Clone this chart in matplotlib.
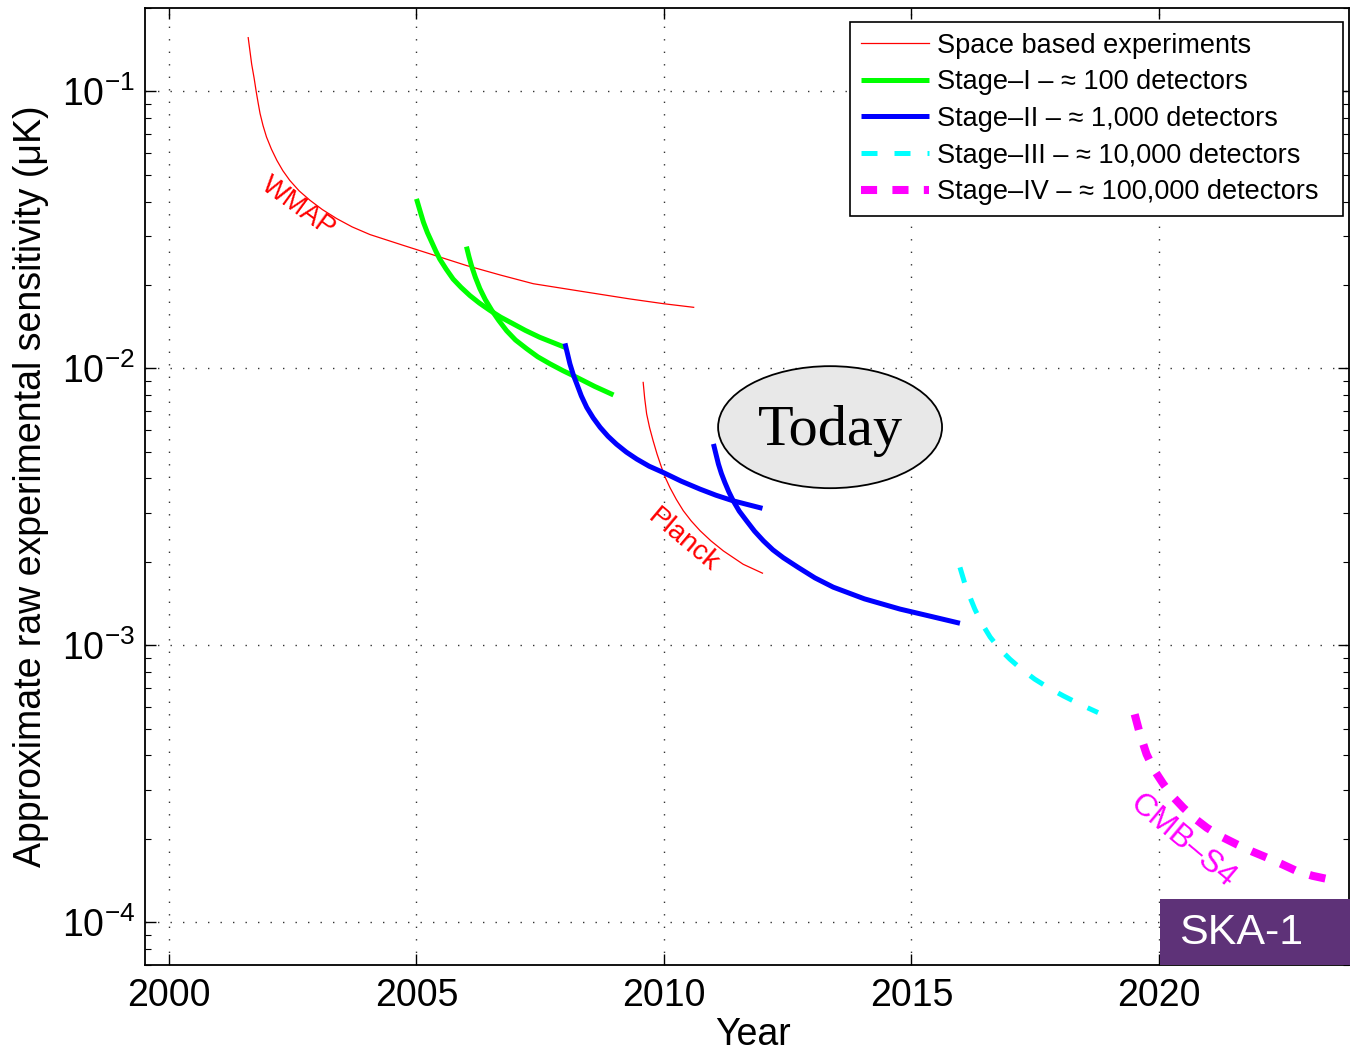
import matplotlib
matplotlib.use('Agg')
import matplotlib.pyplot as plt
from matplotlib.patches import Ellipse, Rectangle

plt.rcParams['font.family'] = ['Liberation Sans', 'DejaVu Sans']
plt.rcParams['mathtext.fontset'] = 'custom'
plt.rcParams['mathtext.rm'] = 'Liberation Sans'
plt.rcParams['mathtext.it'] = 'Liberation Sans:italic'

# curves (year, sensitivity in uK)
wmap_x = [2001.60, 2001.67, 2001.72, 2001.76, 2001.80, 2001.84, 2001.90, 2001.97, 2002.07,
          2002.18, 2002.30, 2002.44, 2002.63, 2002.85, 2003.1, 2003.39, 2003.7, 2004.06,
          2004.73, 2005.27, 2006.01, 2006.7, 2007.36, 2008.3, 2009.31, 2010.0, 2010.6]
wmap_y = [0.1563, 0.1254, 0.1115, 0.1002, 0.0910, 0.0831, 0.0752, 0.0684, 0.0618,
          0.0563, 0.0517, 0.0477, 0.0437, 0.0404, 0.0374, 0.0347, 0.0324, 0.0304,
          0.0278, 0.0259, 0.0235, 0.0217, 0.0202, 0.0190, 0.0178, 0.0171, 0.0166]

planck_x = [2009.58, 2009.61, 2009.65, 2009.71, 2009.78, 2009.86, 2009.95, 2010.03, 2010.12,
            2010.25, 2010.39, 2010.55, 2010.73, 2010.95, 2011.20, 2011.60, 2011.99]
planck_y = [0.00889, 0.0078, 0.00684, 0.0061, 0.00548, 0.0049, 0.00439, 0.00402, 0.00371,
            0.00336, 0.00306, 0.00281, 0.00259, 0.00238, 0.00219, 0.00196, 0.00182]

st1a_x = [2005.0, 2005.07, 2005.14, 2005.22, 2005.31, 2005.39, 2005.47, 2005.6, 2005.74,
          2005.9, 2006.08, 2006.27, 2006.48, 2006.7, 2006.96, 2007.2, 2007.49, 2007.75, 2008.0]
st1a_y = [0.0409, 0.0371, 0.0337, 0.0309, 0.0285, 0.0265, 0.0248, 0.0228, 0.0210,
          0.0196, 0.0183, 0.0172, 0.0162, 0.0153, 0.01445, 0.01370, 0.01294, 0.01240, 0.0119]

st1b_x = [2006.01, 2006.06, 2006.11, 2006.19, 2006.28, 2006.39, 2006.52, 2006.66, 2006.82,
          2007.0, 2007.23, 2007.45, 2007.70, 2007.96, 2008.24, 2008.6, 2008.98]
st1b_y = [0.0275, 0.0253, 0.0235, 0.0213, 0.0194, 0.0177, 0.0162, 0.0149, 0.01367,
          0.01265, 0.01175, 0.01100, 0.01037, 0.00980, 0.00927, 0.00860, 0.00801]

st2a_x = [2008.0, 2008.05, 2008.10, 2008.17, 2008.24, 2008.33, 2008.44, 2008.57, 2008.71,
          2008.87, 2009.04, 2009.24, 2009.45, 2009.7, 2009.99, 2010.35, 2010.73, 2011.05,
          2011.40, 2011.99]
st2a_y = [0.0123, 0.0113, 0.01037, 0.00945, 0.00877, 0.00795, 0.00722, 0.00662, 0.00612,
          0.00568, 0.00532, 0.00498, 0.0047, 0.00443, 0.0042, 0.00391, 0.00366, 0.00348,
          0.00332, 0.00312]

st2b_x = [2011.0, 2011.05, 2011.10, 2011.16, 2011.23, 2011.31, 2011.40, 2011.52, 2011.67,
          2011.83, 2012.01, 2012.2, 2012.41, 2012.71, 2013.05, 2013.42, 2014.05, 2014.77,
          2015.4, 2015.98]
st2b_y = [0.00533, 0.0049, 0.00451, 0.00417, 0.00387, 0.00358, 0.00332, 0.00305, 0.00281,
          0.00258, 0.00238, 0.00221, 0.00207, 0.00191, 0.00175, 0.00162, 0.00147, 0.00135,
          0.00127, 0.0012]

st3_x = [2015.98, 2016.1, 2016.28, 2016.42, 2016.59, 2016.78, 2016.99, 2017.22, 2017.49,
         2017.78, 2018.07, 2018.42, 2018.77]
st3_y = [0.00191, 0.00162, 0.00135, 0.00120, 0.00107, 0.00097, 0.00089, 0.00082, 0.000754,
         0.000700, 0.000656, 0.000610, 0.000571]

st4_x = [2019.51, 2019.62, 2019.75, 2019.9, 2020.09, 2020.28, 2020.49, 2020.72, 2020.97,
         2021.25, 2021.57, 2021.88, 2022.18, 2022.48, 2022.78, 2023.1, 2023.49]
st4_y = [0.000563, 0.000475, 0.000404, 0.000355, 0.000315, 0.000284, 0.000259, 0.000237, 0.000219,
         0.000204, 0.000191, 0.000180, 0.000171, 0.000162, 0.000153, 0.000147, 0.000142]

leg_labels = ['Space based experiments',
              'Stage–I – ≈ 100 detectors',
              'Stage–II – ≈ 1,000 detectors',
              'Stage–III – ≈ 10,000 detectors',
              'Stage–IV – ≈ 100,000 detectors']

year_ticks = [2000, 2005, 2010, 2015, 2020]
sens_ticks = [1e-4, 1e-3, 1e-2, 1e-1]
sens_labels = [r'$\mathregular{10^{-4}}$', r'$\mathregular{10^{-3}}$',
               r'$\mathregular{10^{-2}}$', r'$\mathregular{10^{-1}}$']

fig = plt.figure(figsize=(13.5, 10.5), dpi=100)
ax = fig.add_axes([145 / 1350, 1 - 965 / 1050, 1204 / 1350, 957 / 1050])

h_space, = ax.plot(wmap_x, wmap_y, color='#ff0000', lw=0.9)
ax.plot(planck_x, planck_y, color='#ff0000', lw=0.9)
h_st1, = ax.plot(st1a_x, st1a_y, color='#00ff00', lw=3.6, solid_capstyle='butt')
ax.plot(st1b_x, st1b_y, color='#00ff00', lw=3.6, solid_capstyle='butt')
h_st2, = ax.plot(st2a_x, st2a_y, color='#0000ff', lw=3.6, solid_capstyle='butt')
ax.plot(st2b_x, st2b_y, color='#0000ff', lw=3.6, solid_capstyle='butt')
h_st3, = ax.plot(st3_x, st3_y, color='#00ffff', lw=3.6, ls=(0, (3.2, 3.4)),
                 dash_capstyle='butt')
h_st4, = ax.plot(st4_x, st4_y, color='#ff00ff', lw=5.8, ls=(0, (2.0, 1.9)),
                 dash_capstyle='butt')

ax.set_yscale('log')
ax.set_xlim(1999.515, 2023.84)
ax.set_ylim(7.0e-5, 0.2)
ax.set_xticks(year_ticks)
ax.set_xticklabels([str(y) for y in year_ticks])
ax.set_yticks(sens_ticks)
ax.set_yticklabels(sens_labels)
ax.tick_params(which='both', direction='in', top=True, right=True, labelsize=27)
ax.tick_params(which='major', length=8, width=1.0)
ax.tick_params(which='minor', length=4.5, width=0.8)
ax.tick_params(axis='x', which='major', pad=9)
ax.tick_params(axis='y', which='major', pad=7)
ax.tick_params(axis='x', which='minor', bottom=False, top=False)
ax.grid(True, which='major', color='#333333', ls=(0, (1, 8)), lw=1.0)
for s in ax.spines.values():
    s.set_linewidth(1.3)

ax.set_xlabel('Year', fontsize=27)
ax.xaxis.set_label_coords(0.505, -0.054)
ax.set_ylabel('Approximate raw experimental sensitivity (μK)', fontsize=27, labelpad=9)

ax.text(2002.6, 0.0381, 'WMAP', color='#ff0000', fontsize=19.5, rotation=-36,
        ha='center', va='center', rotation_mode='anchor')
ax.text(2010.38, 0.00238, 'Planck', color='#ff0000', fontsize=20, rotation=-40,
        ha='center', va='center', rotation_mode='anchor')
ax.text(2020.48, 0.000196, 'CMB–S4', color='#ff00ff', fontsize=23, rotation=-40,
        ha='center', va='center', rotation_mode='anchor')

ell = Ellipse((0.569, 0.562), 0.186, 0.1275, transform=ax.transAxes,
              facecolor='#e8e8e8', edgecolor='black', lw=1.3, zorder=5)
ax.add_patch(ell)
ax.text(0.569, 0.558, 'Today', transform=ax.transAxes, fontsize=42,
        family=['Liberation Serif', 'DejaVu Serif'], ha='center', va='center', zorder=6)

leg = ax.legend([h_space, h_st1, h_st2, h_st3, h_st4], [s + '\u2002' for s in leg_labels],
                loc='upper right', bbox_to_anchor=(1343 / 1350, 1 - 22 / 1050),
                bbox_transform=fig.transFigure, borderaxespad=0, fontsize=19.5,
                handlelength=2.5, handletextpad=0.3, labelspacing=0.39,
                fancybox=False, framealpha=1, edgecolor='black', borderpad=0.4)
leg.get_frame().set_linewidth(1.2)
leg.set_zorder(10)

fig.add_artist(Rectangle((1160 / 1350, 1 - 965 / 1050), 190 / 1350, 66 / 1050,
                         transform=fig.transFigure, facecolor='#5e3278',
                         edgecolor='none', zorder=20))
fig.text(1241 / 1350, 1 - 933 / 1050, 'SKA-1', color='white', fontsize=31,
         ha='center', va='center', zorder=21)

fig.savefig('out.png', dpi=100)
